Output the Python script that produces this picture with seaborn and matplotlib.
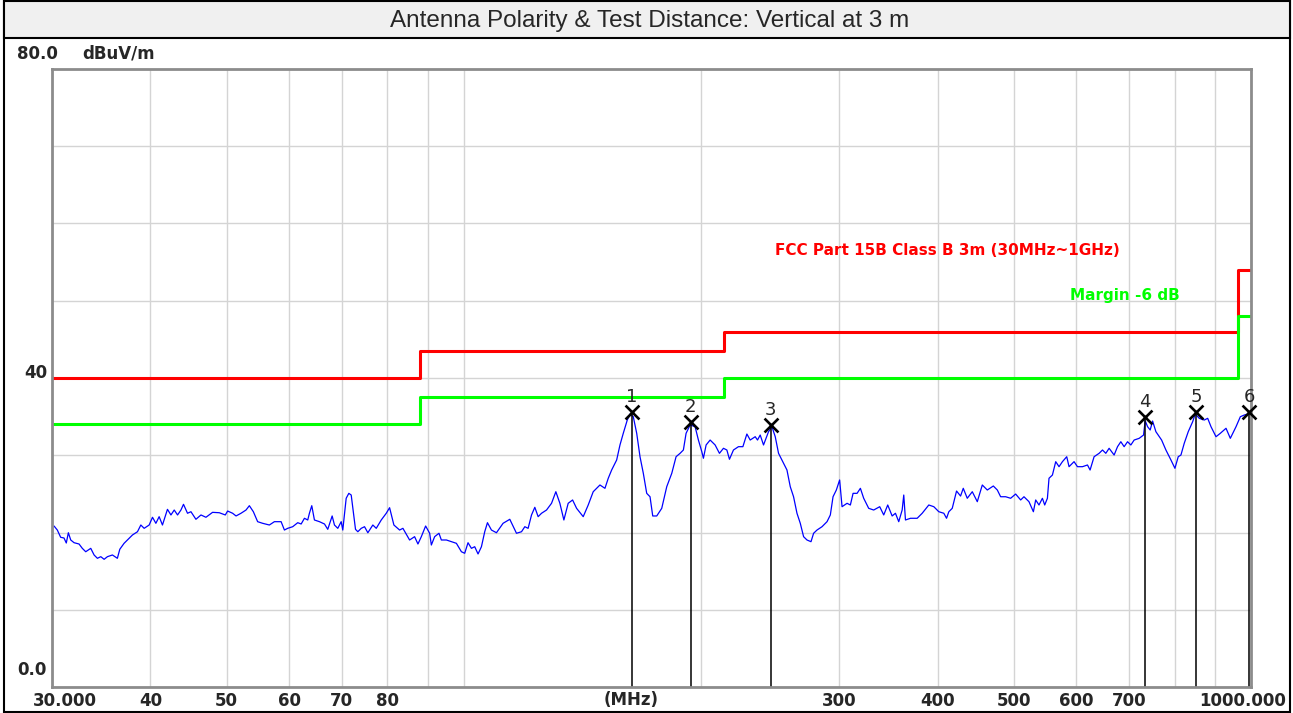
import seaborn as sns
import matplotlib.pyplot as plt
import pandas as pd
from matplotlib.patches import Rectangle
from matplotlib.ticker import NullFormatter
from matplotlib.transforms import ScaledTranslation

freq = [
    30.18, 30.47, 30.77, 31.07, 31.28, 31.47, 31.69, 32.00, 32.47, 32.78,
    33.11, 33.60, 33.93, 34.26, 34.60, 34.94, 35.28, 35.80, 36.32, 36.58,
    37.04, 37.40, 37.96, 38.52, 38.90, 39.28, 39.86, 40.25, 40.65, 41.04,
    41.44, 42.05, 42.48, 42.89, 43.31, 43.74, 44.07, 44.59, 45.04, 45.70,
    46.38, 47.06, 47.98, 48.93, 49.80, 50.14, 50.88, 51.39, 52.14, 52.91,
    53.43, 54.06, 54.74, 55.55, 56.65, 57.49, 58.63, 59.20, 59.77, 60.65,
    61.55, 62.17, 62.77, 63.38, 63.69, 64.13, 64.63, 65.59, 66.56, 67.20,
    68.07, 68.53, 69.20, 69.89, 70.22, 70.92, 71.47, 71.97, 72.46, 72.88,
    73.38, 74.11, 74.83, 75.56, 76.67, 77.44, 78.58, 79.74, 80.52, 81.54,
    82.91, 83.72, 85.37, 86.63, 87.48, 88.35, 89.47, 90.53, 90.98, 91.86,
    93.03, 93.68, 95.07, 96.47, 97.89, 99.34, 100.30, 101.28, 102.29, 103.28,
    104.29, 105.33, 106.35, 107.20, 108.46, 110.06, 112.21, 114.44, 116.70, 118.43,
    119.58, 120.74, 121.95, 123.13, 124.33, 125.57, 127.42, 129.30, 130.94, 132.49,
    134.05, 135.75, 137.51, 139.13, 141.85, 143.94, 146.06, 147.53, 148.96, 151.16,
    152.63, 154.15, 156.43, 157.95, 159.48, 161.36, 162.64, 164.22, 165.87, 167.48,
    169.11, 170.80, 172.46, 173.83, 175.88, 178.47, 181.10, 183.78, 186.11, 188.30,
    190.13, 191.64, 193.90, 196.76, 198.67, 200.66, 201.60, 203.20, 205.60, 208.63,
    211.28, 213.77, 215.91, 217.56, 220.12, 223.37, 226.27, 228.93, 231.16, 234.57,
    236.16, 238.03, 240.35, 243.89, 246.33, 248.73, 251.14, 254.85, 257.40, 259.90,
    262.42, 265.05, 267.63, 270.23, 272.93, 276.15, 278.26, 281.05, 285.19, 289.40,
    292.21, 294.53, 297.39, 300.28, 302.40, 306.86, 309.85, 312.31, 315.99, 319.06,
    322.16, 326.91, 331.73, 337.62, 341.60, 345.62, 350.11, 353.51, 356.94, 360.52,
    362.21, 364.02, 369.39, 376.71, 382.27, 389.73, 395.49, 401.32, 407.24, 410.48,
    413.25, 417.39, 422.68, 427.67, 431.06, 436.14, 442.58, 449.11, 455.74, 462.46,
    470.66, 476.21, 480.83, 487.93, 495.13, 502.44, 509.85, 514.80, 522.40, 529.18,
    532.76, 537.93, 543.32, 546.99, 551.33, 553.92, 559.47, 564.90, 570.39, 576.10,
    583.40, 587.35, 596.02, 601.98, 610.87, 619.88, 624.62, 631.98, 641.31, 647.73,
    654.02, 660.37, 670.11, 676.82, 683.40, 690.04, 696.95, 703.72, 710.55, 721.04,
    730.39, 733.82, 739.00, 744.65, 749.90, 757.19, 769.94, 779.70, 791.21, 800.53,
    808.31, 814.73, 822.65, 832.34, 843.14, 849.59, 859.60, 872.29, 881.02, 889.58,
    902.71, 914.15, 929.54, 941.33, 957.18, 969.32, 980.74, 990.56, 995.21, 1000.00,
]
level = [
    20.84, 20.32, 19.38, 19.29, 18.64, 19.97, 19.03, 18.68, 18.51, 17.95,
    17.51, 17.95, 17.09, 16.66, 16.87, 16.53, 16.87, 17.09, 16.66, 17.83,
    18.60, 19.03, 19.68, 20.10, 20.97, 20.54, 20.97, 21.97, 21.19, 22.05,
    20.97, 23.00, 22.27, 22.91, 22.27, 22.91, 23.65, 22.49, 22.69, 21.71,
    22.27, 21.97, 22.61, 22.56, 22.27, 22.78, 22.49, 22.14, 22.49, 22.91,
    23.47, 22.69, 21.40, 21.19, 20.97, 21.40, 21.40, 20.32, 20.54, 20.75,
    21.27, 21.10, 21.84, 21.62, 22.49, 23.47, 21.62, 21.40, 21.10, 20.41,
    22.14, 20.97, 20.54, 21.40, 20.32, 24.43, 25.07, 24.85, 22.49, 20.41,
    20.10, 20.54, 20.75, 19.97, 20.97, 20.54, 21.62, 22.49, 23.21, 20.97,
    20.32, 20.54, 19.03, 19.46, 18.51, 19.46, 20.84, 19.90, 18.38, 19.46,
    19.90, 19.03, 19.03, 18.81, 18.60, 17.51, 17.31, 18.68, 17.95, 18.16,
    17.22, 18.16, 20.10, 21.27, 20.32, 19.97, 21.19, 21.71, 19.90, 20.10,
    20.75, 20.54, 22.27, 23.26, 22.05, 22.49, 22.91, 23.78, 25.28, 23.78,
    21.62, 23.78, 24.21, 23.13, 22.05, 23.56, 25.28, 25.72, 26.15, 25.72,
    27.02, 28.09, 29.39, 31.33, 32.84, 34.56, 35.34, 34.99, 32.84, 29.81,
    27.66, 25.07, 24.63, 22.14, 22.14, 23.13, 25.93, 27.66, 29.81, 30.25,
    30.68, 32.84, 33.92, 33.70, 31.97, 30.46, 29.61, 31.33, 31.97, 31.33,
    30.25, 30.90, 30.68, 29.48, 30.68, 31.11, 31.11, 32.75, 31.97, 32.40,
    31.97, 32.62, 31.33, 33.05, 33.70, 32.40, 30.25, 28.96, 28.09, 25.93,
    24.63, 22.49, 21.19, 19.46, 19.03, 18.81, 19.90, 20.32, 20.75, 21.40,
    22.27, 24.63, 25.50, 26.80, 23.34, 23.78, 23.56, 25.07, 25.07, 25.72,
    24.43, 23.13, 22.91, 23.34, 22.27, 23.56, 22.14, 22.49, 21.40, 22.91,
    24.85, 21.62, 21.84, 21.84, 22.49, 23.56, 23.34, 22.69, 22.49, 21.84,
    22.69, 23.13, 25.37, 24.72, 25.72, 24.43, 25.28, 23.99, 26.15, 25.50,
    26.02, 25.50, 24.63, 24.63, 24.43, 24.98, 24.21, 24.63, 23.99, 22.69,
    24.21, 23.56, 24.43, 23.56, 24.43, 27.02, 27.44, 29.17, 28.52, 29.17,
    29.81, 28.52, 29.17, 28.52, 28.52, 28.74, 28.09, 29.81, 30.25, 30.68,
    30.25, 30.90, 30.03, 31.11, 31.75, 31.11, 31.75, 31.33, 31.97, 32.19,
    32.62, 34.47, 33.70, 33.27, 34.43, 33.05, 31.97, 30.68, 29.39, 28.31,
    29.81, 30.03, 31.55, 33.05, 34.34, 35.34, 34.78, 34.56, 34.78, 33.70,
    32.40, 32.84, 33.49, 32.19, 33.70, 34.99, 35.21, 35.34, 35.44, 35.40,
]

# FCC Part 15B class B limit and the -6 dB margin line
limit_freq = [30, 88, 214, 963, 1000]
limit_level = [40, 43.5, 46, 54, 54]
margin_level = [34, 37.5, 40, 48, 48]

# marked peaks
peak_no = ['1', '2', '3', '4', '5', '6']
peak_freq = [163.5, 194.3, 245.6, 733.8, 852.1, 995.2]
peak_level = [35.6, 34.3, 33.9, 35.0, 35.6, 35.6]

grid_freq = [40, 50, 60, 70, 80, 90, 100, 200, 300, 400, 500, 600, 700, 800, 900]
tick_freq = [30, 40, 50, 60, 70, 80, 300, 400, 500, 600, 700, 1000]
tick_text = ['30.000', '40', '50', '60', '70', '80',
             '300', '400', '500', '600', '700', '1000.000']
level_grid = [0, 10, 20, 30, 40, 50, 60, 70, 80]

title = 'Antenna Polarity & Test Distance: Vertical at 3 m'
limit_name = 'FCC Part 15B Class B 3m (30MHz~1GHz)'
margin_name = 'Margin -6 dB'


def main():
    sns.set_style('white')
    plt.rcParams['font.family'] = ['DejaVu Sans']

    W, H = 1293, 713
    fig = plt.figure(figsize=(W / 100, H / 100), dpi=100)
    ax = fig.add_axes([52 / W, 26 / H, 1199 / W, 618 / H])

    # window frame and title bar
    fig.patches.append(Rectangle((4 / W, 1 / H), 1286 / W, 711 / H,
                                 transform=fig.transFigure, fill=False,
                                 ec='black', lw=1.5))
    fig.patches.append(Rectangle((4 / W, 675 / H), 1286 / W, 37 / H,
                                 transform=fig.transFigure, fc='#f0f0f0',
                                 ec='black', lw=1.5))
    fig.text(650 / W, 1 - 21 / H, title, ha='center', va='center',
             fontsize=17.5, family='Liberation Sans')

    sweep = pd.DataFrame({'freq': freq, 'level': level})
    limits = pd.DataFrame({'freq': limit_freq, 'limit': limit_level,
                           'margin': margin_level})
    peaks = pd.DataFrame({'freq': peak_freq, 'level': peak_level})

    sns.lineplot(data=limits, x='freq', y='limit', ax=ax, color='#ff0000',
                 lw=2.2, drawstyle='steps-post', estimator=None, zorder=3)
    sns.lineplot(data=limits, x='freq', y='margin', ax=ax, color='#00ff00',
                 lw=2.2, drawstyle='steps-post', estimator=None, zorder=3)
    sns.lineplot(data=sweep, x='freq', y='level', ax=ax, color='#0000ff',
                 lw=0.9, estimator=None, sort=False, zorder=4)

    ax.vlines(peaks['freq'], 0, peaks['level'], color='black', lw=1.1,
              zorder=5)
    sns.scatterplot(data=peaks, x='freq', y='level', ax=ax, marker='x',
                    s=100, color='black', linewidth=1.9, zorder=8,
                    clip_on=False)
    for n, f, l in zip(peak_no, peak_freq, peak_level):
        ax.annotate(n, (f, l), xytext=(0, 15), textcoords='offset pixels',
                    ha='center', va='center', fontsize=13, zorder=8)

    ax.set_xscale('log')
    ax.set_xlim(30, 1000)
    ax.set_ylim(0, 80)
    ax.set_xlabel('')
    ax.set_ylabel('')

    ax.set_xticks(grid_freq, minor=True)
    ax.xaxis.set_minor_formatter(NullFormatter())
    ax.set_xticks(tick_freq, tick_text)
    ax.set_yticks(level_grid, [''] * len(level_grid))
    ax.tick_params(which='both', length=0)
    ax.tick_params(axis='x', pad=3.6, labelsize=12)
    for lab in ax.get_xticklabels():
        lab.set_fontweight('bold')
    labs = ax.get_xticklabels()
    labs[0].set_transform(labs[0].get_transform()
                          + ScaledTranslation(0.13, 0, fig.dpi_scale_trans))
    labs[-1].set_transform(labs[-1].get_transform()
                           + ScaledTranslation(-0.08, 0, fig.dpi_scale_trans))

    ax.grid(True, which='both', axis='x', color='#d4d4d4', lw=1.0)
    ax.grid(True, which='major', axis='y', color='#d4d4d4', lw=1.0)

    for s in ax.spines.values():
        s.set_color('#8c8c8c')
        s.set_linewidth(2)
        s.set_zorder(7)

    bold = dict(fontsize=12, fontweight='bold', va='center',
                textcoords='offset pixels', annotation_clip=False)
    ax.annotate('(MHz)', xy=(0.483, 0), xycoords='axes fraction',
                xytext=(0, -13), ha='center', **bold)
    ax.annotate('80.0', xy=(0, 80), xycoords=('axes fraction', 'data'),
                xytext=(-35, 15), ha='left', **bold)
    ax.annotate('dBuV/m', xy=(0, 80), xycoords=('axes fraction', 'data'),
                xytext=(30, 15), ha='left', **bold)
    ax.annotate('40', xy=(0, 40), xycoords=('axes fraction', 'data'),
                xytext=(-5, 5), ha='right', **bold)
    ax.annotate('0.0', xy=(0, 0), xycoords=('axes fraction', 'data'),
                xytext=(-5, 17), ha='right', **bold)

    ax.text(0.603, 0.707, limit_name, transform=ax.transAxes, color='#ff0000',
            fontsize=11, fontweight='bold', va='center')
    ax.text(0.849, 0.634, margin_name, transform=ax.transAxes,
            color='#00ff00', fontsize=11, fontweight='bold', va='center')

    fig.savefig('out.png', dpi=100)


if __name__ == '__main__':
    main()
